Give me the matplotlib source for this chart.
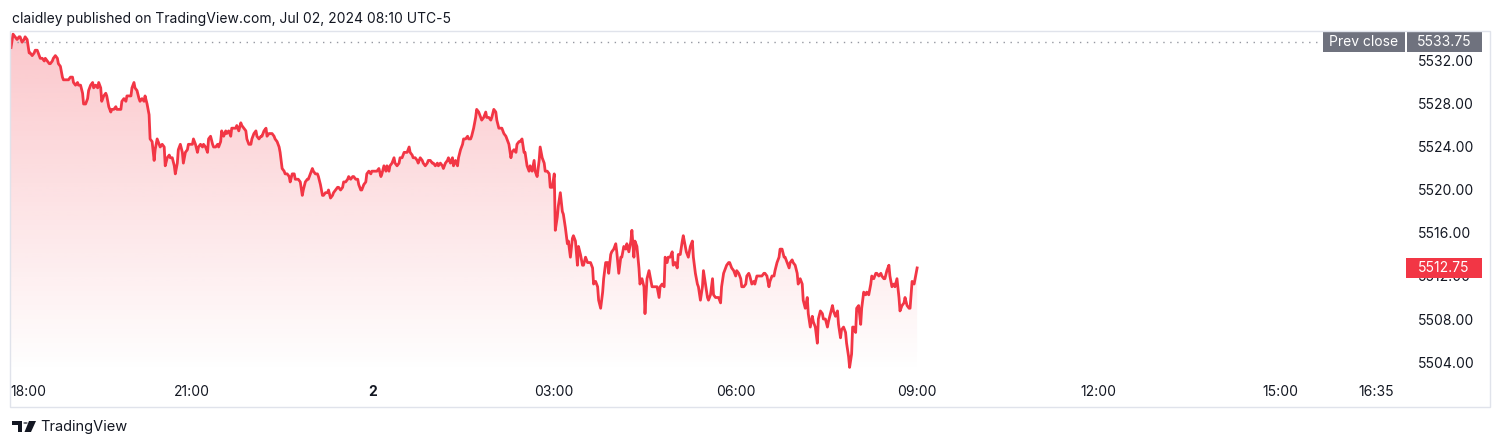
import numpy as np
import matplotlib
matplotlib.use('Agg')
import matplotlib.pyplot as plt
from matplotlib.patches import Rectangle, Polygon, Circle
from matplotlib.colors import to_rgb

plt.rcParams['font.family'] = ['Inter', 'DejaVu Sans']

# minutes after 18:00 (Jul 1) and the price at that minute
minutes = [
    1, 3, 5, 7, 9, 10, 12, 14, 15, 17,
    19, 20, 22, 24, 25, 27, 29, 30, 32, 34,
    35, 37, 39, 40, 42, 43, 45, 47, 48, 50,
    52, 53, 55, 58, 60, 62, 63, 65, 67, 68,
    70, 72, 73, 75, 77, 78, 80, 82, 83, 85,
    87, 88, 90, 91, 93, 95, 96, 98, 100, 101,
    103, 105, 106, 108, 110, 111, 113, 115, 116, 118,
    120, 121, 123, 124, 126, 128, 129, 131, 133, 134,
    136, 138, 139, 141, 143, 144, 146, 148, 149, 151,
    153, 154, 156, 158, 159, 161, 163, 164, 166, 167,
    169, 171, 172, 174, 176, 177, 179, 181, 182, 184,
    186, 187, 189, 191, 192, 194, 196, 197, 199, 201,
    202, 204, 206, 207, 209, 210, 212, 214, 215, 217,
    219, 220, 222, 224, 225, 227, 229, 230, 232, 234,
    235, 237, 239, 240, 242, 244, 245, 247, 249, 250,
    252, 254, 255, 257, 258, 260, 262, 263, 265, 267,
    268, 270, 272, 273, 275, 277, 278, 280, 282, 283,
    285, 286, 288, 290, 291, 293, 295, 296, 298, 300,
    301, 303, 305, 306, 308, 310, 311, 313, 315, 316,
    318, 320, 321, 323, 325, 326, 328, 330, 331, 333,
    335, 336, 338, 340, 341, 343, 345, 346, 348, 349,
    351, 353, 354, 356, 358, 359, 361, 363, 364, 366,
    368, 369, 371, 373, 374, 376, 377, 379, 381, 382,
    384, 386, 387, 389, 391, 392, 394, 396, 397, 399,
    400, 402, 404, 405, 407, 409, 410, 412, 414, 415,
    417, 419, 420, 422, 424, 425, 427, 429, 430, 432,
    434, 435, 437, 439, 440, 442, 444, 445, 447, 449,
    450, 452, 454, 455, 457, 458, 460, 462, 463, 465,
    467, 468, 470, 472, 473, 475, 477, 478, 480, 482,
    483, 485, 487, 488, 490, 492, 493, 495, 497, 498,
    500, 502, 503, 505, 506, 508, 510, 511, 513, 515,
    516, 518, 520, 521, 523, 525, 526, 528, 530, 531,
    533, 535, 536, 538, 540, 541, 543, 544, 546, 548,
    549, 551, 553, 554, 556, 558, 559, 561, 563, 564,
    566, 568, 569, 571, 573, 574, 576, 578, 579, 581,
    583, 584, 586, 588, 589, 591, 593, 594, 596, 597,
    599, 601, 602, 604, 606, 607, 609, 611, 612, 614,
    616, 617, 619, 620, 622, 624, 625, 627, 629, 630,
    632, 634, 635, 637, 639, 640, 642, 644, 645, 647,
    649, 650, 652, 653, 655, 657, 658, 660, 662, 663,
    665, 667, 668, 670, 671, 673, 675, 677, 678, 680,
    682, 683, 685, 687, 688, 690, 692, 693, 695, 697,
    698, 700, 701, 703, 705, 706, 708, 710, 711, 713,
    714, 716, 718, 720, 721, 723, 725, 726, 728, 730,
    731, 733, 734, 736, 738, 739, 741, 743, 744, 746,
    748, 749, 751, 753, 754, 756, 758, 759, 761, 763,
    764, 766, 768, 769, 771, 773, 774, 776, 777, 779,
    781, 782, 784, 786, 787, 789, 791, 792, 794, 796,
    797, 799, 801, 802, 804, 806, 807, 809, 811, 812,
    814, 816, 817, 819, 821, 822, 824, 825, 827, 829,
    830, 832, 833, 835, 836, 837, 839, 840, 842, 844,
    845, 847, 849, 850, 852, 854, 855, 857, 859, 860,
    862, 864, 865, 867, 868, 870, 872, 873, 875, 877,
    878, 880, 882, 883, 885, 887, 888, 890, 892, 893,
    895, 897, 898, 900,
]
prices = [
    5533.25, 5534.5, 5534.25, 5534, 5534.25, 5534.25, 5533.75, 5534, 5534.25, 5534,
    5532.75, 5532.75, 5532.5, 5532.75, 5533, 5533, 5532.5, 5532.25, 5532.25, 5532,
    5532.25, 5532, 5531.75, 5531.75, 5532, 5532.25, 5532.5, 5532.25, 5531.75, 5531.5,
    5530.5, 5530.25, 5530.25, 5530.25, 5530.5, 5530.5, 5530, 5529.75, 5530, 5529.75,
    5529.75, 5529, 5528, 5528, 5528.5, 5529.25, 5529.75, 5530, 5529.5, 5529.75,
    5529.5, 5530, 5529.5, 5528.25, 5528.75, 5529, 5528.75, 5527.75, 5527.25, 5527.5,
    5527.5, 5527.75, 5527.5, 5527.5, 5527.5, 5528.25, 5528.5, 5528.25, 5528.75, 5528.75,
    5528.75, 5529.5, 5530, 5529.5, 5529.25, 5528.5, 5528.25, 5528.5, 5528.25, 5528.75,
    5528, 5527, 5524.75, 5524.5, 5522.75, 5523.75, 5524.75, 5524.25, 5524, 5524.25,
    5524, 5522.25, 5523, 5523.25, 5523, 5523, 5522.25, 5521.5, 5522.5, 5523.75,
    5524.25, 5523.5, 5522.5, 5523.5, 5523.75, 5524.25, 5524.25, 5524.25, 5524.75, 5524.25,
    5523.5, 5524, 5524.25, 5524, 5524.25, 5524, 5523.5, 5524.75, 5525, 5524.25,
    5524, 5524, 5524.25, 5524, 5524.5, 5525.5, 5525, 5525.5, 5525.25, 5525.5,
    5525, 5525.75, 5525.75, 5525.75, 5526, 5525.5, 5526.25, 5526, 5525.75, 5525.5,
    5524.75, 5524.25, 5524.25, 5524.75, 5525.25, 5525.5, 5525, 5524.75, 5525, 5525,
    5525.5, 5525.75, 5525, 5525.25, 5525.25, 5525.25, 5525, 5524.75, 5524.5, 5524,
    5523.5, 5522, 5521.75, 5521.5, 5521.5, 5521.25, 5520.75, 5521.5, 5521.5, 5521,
    5521, 5521, 5520.75, 5519.5, 5520, 5520.75, 5521, 5521, 5521.5, 5522,
    5521.75, 5521.5, 5521.5, 5521.25, 5520.5, 5519.5, 5519.5, 5519.75, 5519.75, 5520,
    5519.25, 5519.5, 5519.75, 5520, 5520.25, 5520.25, 5520, 5520.25, 5520.75, 5520.75,
    5521, 5521.25, 5521, 5521.25, 5521.25, 5521, 5521, 5520.5, 5520, 5520,
    5520.5, 5520.75, 5521.5, 5521.75, 5521.5, 5521.75, 5521.75, 5521.75, 5521.75, 5522,
    5521.25, 5521.5, 5522.25, 5521.75, 5522.25, 5521.75, 5522.25, 5522.5, 5523, 5522.5,
    5522.25, 5522.5, 5523, 5523, 5523.5, 5523.5, 5523.5, 5524, 5523.5, 5523.25,
    5523, 5523, 5522.75, 5522.5, 5523, 5522.75, 5522.5, 5522.25, 5522.5, 5522.75,
    5522.75, 5522.5, 5522.5, 5522.25, 5522.5, 5522.25, 5522.5, 5522.25, 5522, 5522.5,
    5522.75, 5523, 5522.5, 5523, 5522.25, 5522.75, 5522.25, 5523, 5523.75, 5524.25,
    5524.75, 5524.75, 5525, 5524.75, 5524.75, 5525, 5525.75, 5526.75, 5527.5, 5527.25,
    5526.75, 5526.5, 5526.75, 5527.25, 5526.75, 5526.75, 5526.5, 5526.75, 5527.5, 5527.25,
    5526.5, 5525.75, 5525.75, 5525.75, 5525.25, 5525, 5524.75, 5524.25, 5523, 5523.5,
    5523.75, 5523.5, 5524.25, 5524.5, 5524.5, 5524.75, 5523.5, 5523.5, 5522.25, 5521.75,
    5522.25, 5521.75, 5522.75, 5521.75, 5521.25, 5522.75, 5524, 5523, 5522.5, 5521.75,
    5521.75, 5521.5, 5520.25, 5520.25, 5521.5, 5516.25, 5517.5, 5518.5, 5519.75, 5518,
    5517.75, 5516.5, 5515, 5515.25, 5513.75, 5515.5, 5515.75, 5515.25, 5513, 5514.75,
    5514, 5513, 5513, 5513.75, 5513.25, 5513.25, 5513.25, 5512.75, 5511.25, 5511.5,
    5511, 5509.75, 5509, 5510.5, 5511.75, 5513.25, 5513.25, 5512.25, 5514, 5514.25,
    5514.5, 5515, 5514.25, 5512.25, 5513.75, 5513.75, 5514.75, 5514.5, 5515, 5514.25,
    5515.25, 5516.25, 5513.75, 5515.25, 5514.75, 5512.75, 5511.25, 5511.75, 5511, 5508.5,
    5511.75, 5512.5, 5512, 5511, 5511, 5511, 5511, 5510, 5511, 5511.25,
    5511, 5513.75, 5513.25, 5513.75, 5513.75, 5514.25, 5513, 5513.25, 5512.75, 5514,
    5514, 5515.25, 5515.75, 5514.75, 5514.25, 5513.75, 5514.75, 5515.25, 5513.75, 5512.25,
    5511.25, 5511, 5509.75, 5511, 5512.5, 5511.25, 5510, 5509.75, 5510.25, 5511.75,
    5510.25, 5510, 5510, 5510, 5509.5, 5511, 5512.25, 5512.75, 5513, 5513.25,
    5513.25, 5512.75, 5512.5, 5512, 5512.5, 5512.25, 5511.75, 5511, 5511, 5511.25,
    5512, 5512.25, 5512, 5511.25, 5511.5, 5511.25, 5512, 5512, 5512, 5512,
    5512.25, 5512.25, 5512, 5511, 5511.5, 5512, 5512, 5512.5, 5513.25, 5513.75,
    5514.5, 5514.5, 5513.75, 5513.75, 5513.25, 5512.75, 5513.25, 5513.5, 5513.25, 5513,
    5512.25, 5511.25, 5511.75, 5511.25, 5509.75, 5509, 5510, 5508.5, 5507.25, 5508.25,
    5507.75, 5507.25, 5505.75, 5508, 5508.75, 5508.5, 5508, 5508, 5507.25, 5507.75,
    5508.5, 5509.25, 5508.75, 5508.25, 5508.75, 5507.5, 5506.25, 5507, 5507.25, 5506.75,
    5505.75, 5504.5, 5503.5, 5504.75, 5507.25, 5507.25, 5506.75, 5509, 5509.25, 5507.5,
    5509, 5510.5, 5510.25, 5510.5, 5510.25, 5511.25, 5512, 5511.75, 5512.25, 5512.25,
    5512, 5512.25, 5512, 5511.75, 5511.75, 5512.5, 5513, 5512, 5511, 5511.25,
    5511, 5511.75, 5510, 5508.75, 5509.25, 5509.5, 5510, 5509.25, 5509, 5509,
    5511.5, 5511.25, 5511.75, 5512.75,
]

prev_close = 5533.75
price_ticks = [5504, 5508, 5512, 5516, 5520, 5524, 5528, 5532]
time_ticks = [0, 180, 360, 540, 720, 900, 1080, 1260, 1355]
time_labels = ['18:00', '21:00', '2', '03:00', '06:00', '09:00', '12:00', '15:00', '16:35']
header = 'claidley published on TradingView.com, Jul 02, 2024 08:10 UTC-5'

RED = '#f23645'
TXT = '#131722'
GREY_BOX = '#6f727e'
W, H = 1500, 448

x = np.array(minutes, dtype=float)
y = np.array(prices, dtype=float)
last_price = y[-1]
ymin, ymax = 5503.07, 5534.79
xmin, xmax = 0.5, 1389

fig = plt.figure(figsize=(W / 100, H / 100), dpi=100)
fig.patch.set_facecolor('white')
ax = fig.add_axes([10 / W, 1 - 372 / H, 1400 / W, 341 / H])
for s in ax.spines.values():
    s.set_visible(False)

# gradient area under the line
fill = ax.fill_between(x, y, ymin, color='none', lw=0)
r, g, b = to_rgb(RED)
alpha = np.linspace(0.28, 0.0, 256)
grad = np.zeros((256, 1, 4))
grad[..., 0], grad[..., 1], grad[..., 2] = r, g, b
grad[:, 0, 3] = alpha
im = ax.imshow(grad, extent=[x[0], x[-1], ymin, y.max()], aspect='auto',
               origin='upper', zorder=1, interpolation='bilinear')
im.set_clip_path(fill.get_paths()[0], transform=ax.transData)

ax.plot(x, y, color=RED, lw=2.0, zorder=3, solid_joinstyle='round')

ax.set_xlim(xmin, xmax)
ax.set_ylim(ymin, ymax)

# prev close dotted line + labels
ax.axhline(prev_close, xmin=0, xmax=0.9379, color='#9598a1', lw=1,
           linestyle=(0, (1, 4)), zorder=2)

ppu = 341 / (ymax - ymin)
box_h = 20 / ppu
ytr = ax.get_yaxis_transform()
ax.add_patch(Rectangle((0.93786, prev_close - box_h / 2), 0.05857, box_h, transform=ytr,
                       fc=GREY_BOX, ec='none', clip_on=False, zorder=5))
ax.add_patch(Rectangle((0.99764, prev_close - box_h / 2), 0.0540, box_h, transform=ytr,
                       fc=GREY_BOX, ec='none', clip_on=False, zorder=5))
ax.text(0.96714, prev_close, 'Prev close', transform=ytr, ha='center', va='center',
        color='white', fontsize=10, zorder=6, clip_on=False)
ax.text(1.02464, prev_close, '%.2f' % prev_close, transform=ytr, ha='center', va='center',
        color='white', fontsize=10, zorder=6, clip_on=False)

# last price label (covers the 5512.00 tick label, as on the original)
ax.add_patch(Rectangle((0.99714, last_price - box_h / 2), 0.05429, box_h, transform=ytr,
                       fc=RED, ec='none', clip_on=False, zorder=5))
ax.text(1.02429, last_price, '%.2f' % last_price, transform=ytr, ha='center', va='center',
        color='white', fontsize=10, zorder=6, clip_on=False)

# axes ticks
ax.yaxis.tick_right()
ax.set_yticks(price_ticks, ['%.2f' % p for p in price_ticks])
ax.set_xticks(time_ticks, time_labels)
ax.tick_params(axis='y', length=0, pad=6, labelsize=10, labelcolor=TXT)
ax.tick_params(axis='x', length=0, pad=9.5, labelsize=10, labelcolor=TXT)
xl = ax.get_xticklabels()
xl[0].set_ha('left')
xl[2].set_fontweight('bold')

# chart frame
fig.add_artist(Rectangle((10 / W, 1 - 407 / H), 1480 / W, 376 / H, transform=fig.transFigure,
                         fill=False, ec='#e0e3eb', lw=1))

fig.text(12 / W, 1 - 19 / H, header, fontsize=10, color=TXT, va='center', ha='left')


# footer logo
def px(px_x, px_y):
    return (px_x / W, 1 - px_y / H)


logo = [
    Polygon([px(12, 421), px(22, 421), px(22, 432), px(17.5, 432), px(17.5, 425), px(12, 425)]),
    Circle(px(25.5, 423), 2.2 / W),
    Polygon([px(29, 421), px(36, 421), px(31, 432), px(24.5, 432)]),
]
for p in logo:
    p.set_transform(fig.transFigure)
    p.set_facecolor(TXT)
    p.set_edgecolor('none')
    fig.add_artist(p)

fig.text(40 / W, 1 - 427 / H, 'TradingView', fontsize=10.5, color=TXT, va='center', ha='left')

fig.savefig('out.png', dpi=100, facecolor='white')
